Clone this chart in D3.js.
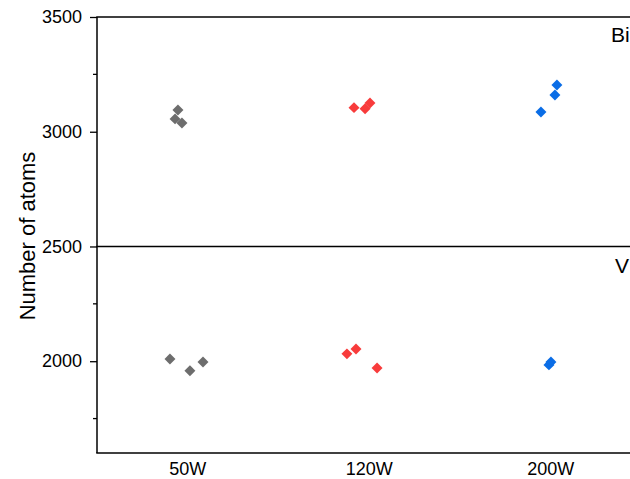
<!DOCTYPE html>
<html>
<head>
<meta charset="utf-8">
<script src="https://cdn.jsdelivr.net/npm/d3@7"></script>
<style>
  body { margin: 0; background: #fff; }
  svg { display: block; font-family: "Liberation Sans", Arial, sans-serif; }
</style>
</head>
<body>
<div id="chart"></div>
<script>
// categories and values
const categories = ["50W", "120W", "200W"];
const colors = ["#6d6d6d", "#f83b3b", "#0a6de6"];
const panels = ["Bi", "V"];

// each point: category index (1-based) + jitter, value
const biX = [[0.946, 0.930, 0.968], [1.916, 1.977, 2.004], [3.034, 3.023, 2.946]];
const biY = [[3095, 3056, 3038], [3105, 3100, 3125], [3204, 3160, 3086]];
const vX = [[0.902, 1.012, 1.084], [1.877, 1.927, 2.043], [2.990, 3.001]];
const vY = [[2010, 1958, 1997], [2032, 2053, 1970], [1984, 1997]];

const yMajor = [2000, 2500, 3000, 3500];
const yMinor = [1750, 2250, 3250];

const width = 630, height = 479;
const margin = {top: 17, right: 0, bottom: 26, left: 97};

const svg = d3.select("#chart").append("svg")
  .attr("width", width).attr("height", height);

const x = d3.scaleLinear().domain([0.5, 3.5]).range([margin.left, margin.left + 3 * 181.5]);
const y = d3.scaleLinear().domain([1600, 3500]).range([height - margin.bottom, margin.top]);

// y axis
const axisY = svg.append("g")
  .attr("transform", "translate(" + margin.left + ",0)")
  .call(d3.axisLeft(y).tickValues(yMajor).tickSize(7).tickPadding(8).tickFormat(d3.format("d")));
axisY.select(".domain").attr("stroke-width", 1.5).attr("d", "M0," + y(3500) + "V" + y(1600));
axisY.selectAll(".tick line").attr("stroke-width", 1.3);
axisY.selectAll(".tick text").attr("font-size", 18).attr("fill", "#000");

svg.append("g").attr("transform", "translate(" + margin.left + ",0)")
  .selectAll("line").data(yMinor).enter().append("line")
  .attr("x1", -4).attr("x2", 0)
  .attr("y1", d => y(d)).attr("y2", d => y(d))
  .attr("stroke", "#000").attr("stroke-width", 1.3);

// horizontal frame lines: top, divider, bottom
[3500, 2500, 1600].forEach(v => {
  svg.append("line")
    .attr("x1", margin.left - 0.75).attr("x2", width)
    .attr("y1", y(v)).attr("y2", y(v))
    .attr("stroke", "#000").attr("stroke-width", 1.5);
});

// x labels
svg.append("g").selectAll("text").data(categories).enter().append("text")
  .attr("x", (d, i) => x(i + 1))
  .attr("y", y(1600) + 22)
  .attr("text-anchor", "middle")
  .attr("font-size", 18)
  .text(d => d);

// y title
svg.append("text")
  .attr("transform", "translate(35," + 236 + ") rotate(-90)")
  .attr("text-anchor", "middle")
  .attr("font-size", 22)
  .text("Number of atoms");

// panel labels (cut by the right edge, as in the original)
svg.append("text").attr("x", 611).attr("y", y(3500) + 25).attr("font-size", 21).text(panels[0]);
svg.append("text").attr("x", 615).attr("y", y(2500) + 27).attr("font-size", 21).text(panels[1]);

// points
const diamond = d3.symbol().type(d3.symbolSquare).size(60);
const pts = [];
[[biX, biY], [vX, vY]].forEach(([xs, ys]) => {
  xs.forEach((row, c) => row.forEach((xv, j) => pts.push({x: xv, y: ys[c][j], c})));
});
svg.append("g").selectAll("path").data(pts).enter().append("path")
  .attr("d", diamond)
  .attr("transform", d => "translate(" + x(d.x) + "," + y(d.y) + ") rotate(45)")
  .attr("fill", d => colors[d.c]);
</script>
</body>
</html>
